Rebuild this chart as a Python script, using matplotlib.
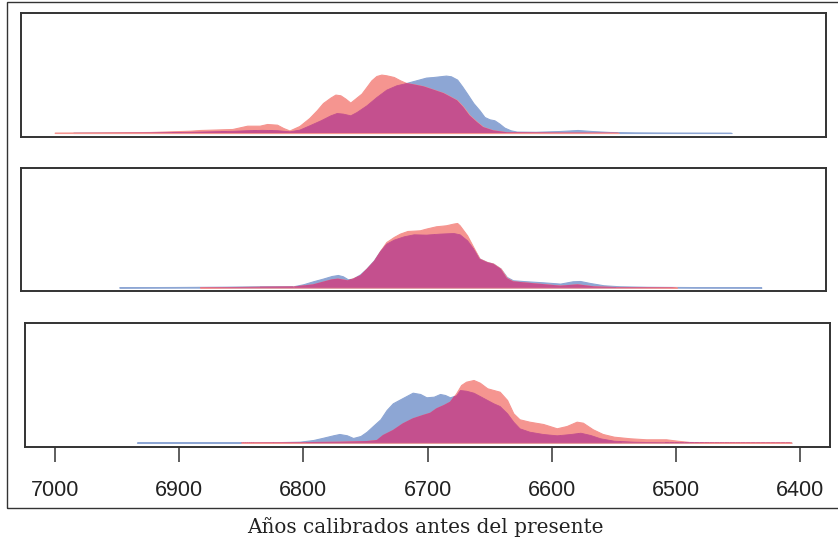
import numpy as np
import matplotlib.pyplot as plt
from matplotlib.patches import Rectangle, PathPatch

# calibrated ages (years BP) and density heights (arbitrary units), one pair per curve
blue1_x = [6982, 6920, 6888, 6854, 6842, 6830, 6818, 6808, 6800, 6792, 6783, 6775,
           6770, 6765, 6759, 6754, 6746, 6738, 6730, 6722, 6714, 6708, 6703, 6698,
           6692, 6687, 6682, 6678, 6673, 6669, 6665, 6660, 6655, 6651, 6647, 6643,
           6639, 6635, 6630, 6625, 6610, 6590, 6576, 6565, 6550, 6530, 6500, 6453, 6452]
blue1_y = [0.3, 0.6, 1.2, 2.2, 2.8, 3.2, 2.8, 1.7, 3.4, 7.7, 12.7, 17.7,
           20, 19.4, 17.7, 21, 27.7, 36, 43.4, 47.7, 50, 52, 53.7, 55.4,
           56, 56.7, 57.4, 56.7, 53.4, 46.7, 39.4, 30, 22.7, 16, 13.7, 12.7,
           9.4, 5.4, 2.7, 1.4, 1.2, 2.0, 3.0, 2.0, 1.0, 0.6, 0.4, 0.3, 0]
red1_x = [6997, 6960, 6920, 6888, 6880, 6854, 6842, 6832, 6826, 6818, 6813, 6808,
          6800, 6792, 6786, 6781, 6775, 6771, 6767, 6763, 6759, 6755, 6750, 6746,
          6742, 6738, 6734, 6730, 6724, 6719, 6714, 6708, 6700, 6692, 6684, 6679,
          6673, 6668, 6663, 6657, 6652, 6644, 6633, 6600, 6560, 6544, 6543]
red1_y = [0.4, 0.6, 1.0, 2.3, 3.0, 4, 7.3, 7.3, 9, 8.3, 5, 2.5,
          7, 15, 22.7, 30, 35.4, 38.4, 37.7, 34.4, 30.4, 34.4, 39.4, 46,
          52.7, 57, 58.4, 57.7, 56, 52.7, 50, 48.7, 46.7, 43.4, 40, 36.7,
          32.7, 26, 17.7, 11, 6, 2.7, 0.8, 0.5, 0.4, 0.3, 0]

blue2_x = [6945, 6900, 6860, 6832, 6805, 6797, 6789, 6781, 6774, 6769, 6765, 6761,
           6757, 6751, 6746, 6740, 6735, 6730, 6724, 6716, 6708, 6698, 6687, 6676,
           6671, 6665, 6660, 6655, 6649, 6644, 6638, 6633, 6628, 6617, 6604, 6590,
           6580, 6574, 6566, 6555, 6542, 6520, 6480, 6429, 6428]
blue2_y = [0.4, 0.6, 0.9, 1.3, 1.3, 3.3, 6.3, 9, 11.6, 12.6, 11.3, 8.3,
           9, 13.3, 19, 27.3, 36.6, 44, 48, 51.3, 53.3, 53, 54, 54.6,
           53.3, 47.3, 39, 29, 25.6, 24, 19, 10.6, 7.3, 6.3, 5.3, 4,
           6.3, 6.6, 4.6, 2.3, 1.3, 0.8, 0.5, 0.4, 0]
red2_x = [6880, 6860, 6832, 6805, 6789, 6774, 6769, 6761, 6751, 6740, 6735, 6730,
          6724, 6719, 6713, 6703, 6698, 6690, 6682, 6676, 6673, 6671, 6665, 6660,
          6655, 6649, 6644, 6638, 6633, 6628, 6617, 6590, 6576, 6563, 6547, 6500, 6496]
red2_y = [0.3, 0.5, 0.8, 1.0, 3.3, 8.3, 9, 7.3, 12.3, 26.6, 36.6, 45.6,
          50.6, 54, 56.6, 57.3, 59, 61.3, 62.3, 64, 64.6, 62.3, 52.3, 40.6,
          29, 25.6, 24, 19, 9.6, 6.3, 5, 2, 3.3, 1.3, 0.6, 0.4, 0]

blue3_x = [6934, 6880, 6840, 6819, 6803, 6792, 6784, 6776, 6771, 6765, 6760, 6754,
           6749, 6744, 6738, 6733, 6728, 6722, 6717, 6712, 6706, 6701, 6695, 6690,
           6686, 6682, 6677, 6674, 6669, 6663, 6658, 6652, 6647, 6642, 6636, 6631,
           6626, 6618, 6607, 6596, 6585, 6577, 6569, 6561, 6550, 6534, 6510, 6408, 6407]
blue3_y = [0.3, 0.4, 0.5, 0.6, 1, 2.7, 5, 7.4, 8.7, 7.4, 4.7, 6.7,
           11, 16.7, 23.4, 32.7, 39.4, 43.4, 46.7, 50, 48.7, 45.4, 46, 48.7,
           47.7, 45.4, 47.4, 52.7, 52, 50, 46.7, 42.7, 39.4, 36.7, 29.4, 21,
           14.4, 11, 8.7, 7.4, 8.7, 10, 7.7, 4.4, 2, 1, 0.4, 0.3, 0]
red3_x = [6850, 6800, 6771, 6749, 6741, 6736, 6728, 6720, 6712, 6704, 6698, 6693,
          6687, 6682, 6677, 6673, 6669, 6663, 6658, 6652, 6647, 6642, 6636, 6631,
          6626, 6618, 6607, 6596, 6588, 6580, 6575, 6567, 6559, 6550, 6537, 6524,
          6508, 6499, 6489, 6470, 6408, 6407]
red3_y = [0.3, 0.6, 1, 1.7, 2.7, 7.7, 12.7, 19.4, 24.4, 27.7, 30, 34.4,
          37.7, 41, 49.4, 57.7, 61, 62.7, 60, 54.4, 52.7, 51, 42.7, 29.4,
          23.4, 21, 18.7, 14.4, 16.7, 21, 20, 13.4, 8.7, 6, 4.4, 3.4,
          3.4, 2, 0.7, 0.4, 0.3, 0]

xticks = [7000, 6900, 6800, 6700, 6600, 6500, 6400]
xlabel = "Años calibrados antes del presente"

BLUE = "#8da6d4"
RED = "#f59590"
BOTH = "#c4508e"

W, H = 838, 544
PX_PER_YEAR = 1.242
fig = plt.figure(figsize=(W / 100, H / 100), dpi=100)

# outer frame, its right side runs off the picture
fig.patches.append(Rectangle((7 / W, 1 - 508 / H), 1.0, (508 - 2) / H,
                             transform=fig.transFigure, fill=False,
                             edgecolor="#333333", linewidth=1.0))


def panel(box, x7000, bx, by, rx, ry, base):
    # box in pixels (left, top, right, bottom); x7000 = pixel column of year 7000
    left, top, right, bottom = box
    ax = fig.add_axes([left / W, 1 - bottom / H, (right - left) / W, (bottom - top) / H])
    ax.fill_between(bx, 0, by, color=BLUE, lw=0.8, edgecolor=BLUE)
    red = ax.fill_between(rx, 0, ry, color=RED, lw=0.8, edgecolor=RED)
    clip = PathPatch(red.get_paths()[0], transform=ax.transData,
                     facecolor="none", edgecolor="none")
    ax.add_patch(clip)
    over = ax.fill_between(bx, 0, by, color=BOTH, lw=0.6, edgecolor=BOTH)
    over.set_clip_path(clip)
    ax.set_xlim(7000 + (x7000 - left) / PX_PER_YEAR, 7000 - (right - x7000) / PX_PER_YEAR)
    off = bottom - base
    ax.set_ylim(-off, (bottom - top) - off)
    ax.set_yticks([])
    for s in ax.spines.values():
        s.set_color("#333333")
        s.set_linewidth(1.4)
    return ax


ax1 = panel((21, 13, 826, 137), 51, blue1_x, blue1_y, red1_x, red1_y, 133)
ax2 = panel((21, 168, 826, 291), 51, blue2_x, blue2_y, red2_x, red2_y, 287.6)
ax3 = panel((25, 323, 830, 447), 55, blue3_x, blue3_y, red3_x, red3_y, 442.7)

ax1.set_xticks([])
ax2.set_xticks([])

ax3.set_xticks(xticks)
ax3.set_xticklabels([str(t) for t in xticks], family="Liberation Sans",
                    fontsize=15.5, color="#222222")
ax3.tick_params(axis="x", direction="out", length=10.8, width=1.1,
                color="#333333", pad=13)

fig.text(425 / W, 1 - 527 / H, xlabel, family="DejaVu Serif", fontsize=14.4,
         ha="center", va="center", color="#222222")

fig.savefig("out.png", dpi=100)
